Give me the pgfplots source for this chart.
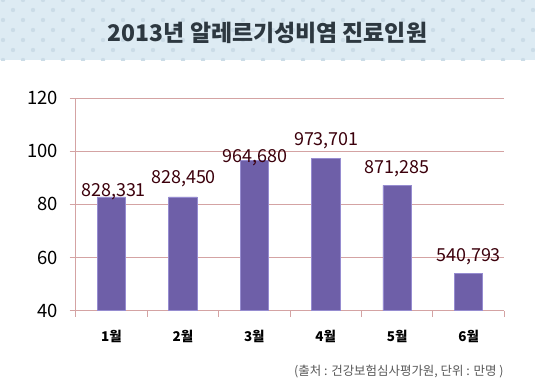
\documentclass[border=0pt]{standalone}
\usepackage{fontspec}
\setmainfont{Noto Sans CJK KR}
\usepackage{pgfplots}
\pgfplotsset{compat=1.18}
\definecolor{band}{RGB}{221,235,243}
\definecolor{dot}{RGB}{203,220,231}
\definecolor{gridc}{RGB}{212,163,163}
\definecolor{barc}{RGB}{110,95,168}
\definecolor{bare}{RGB}{150,140,208}
\definecolor{labc}{RGB}{60,0,12}
\definecolor{titc}{RGB}{45,56,64}
\begin{document}
\begin{tikzpicture}[x=1bp,y=1bp]
\fill[white] (0,0) rectangle (535,390);
\begin{scope}
\clip (0,330) rectangle (535,390);
\fill[band] (0,330) rectangle (535,390);
\foreach \r in {0,...,6}{
  \pgfmathsetmacro{\yy}{390-\r*10}
  \pgfmathsetmacro{\off}{mod(\r,2)==0 ? 3 : 13}
  \foreach \c in {0,...,26}{
    \fill[dot] ({\off+\c*20},\yy) circle (2.2);
  }
}
\end{scope}
\node[font=\fontsize{23}{27}\selectfont\bfseries, text=titc] at (267.5,357) {2013년 알레르기성비염 진료인원};
\begin{axis}[
  at={(75.7bp,79.3bp)}, anchor=south west,
  scale only axis, width=428.6bp, height=212.6bp,
  xmin=-0.5, xmax=5.5, ymin=40, ymax=120,
  ytick={40,60,80,100,120},
  xtick={-0.5,0.5,1.5,2.5,3.5,4.5,5.5},
  x tick label as interval,
  xticklabels={1월,2월,3월,4월,5월,6월},
  axis x line*=bottom, axis y line*=left,
  axis line style={-, draw=gridc, line width=0.8pt},
  tick style={draw=gridc, line width=0.8pt},
  tick align=outside, major tick length=6bp,
  ymajorgrids, grid style={draw=gridc, line width=0.8pt},
  /pgf/number format/assume math mode=true,
  yticklabel style={font=\fontsize{18.5}{20}\selectfont, text=black, xshift=-8bp},
  xticklabel style={font=\fontsize{13.5}{15}\selectfont\bfseries, text=black, yshift=-10bp},
  ybar, bar width=28.4bp, bar shift=0pt,
  clip=false,
]
\addplot[fill=barc, draw=bare, line width=0.6pt] coordinates {(0,82.8331) (1,82.8450) (2,96.4680) (3,97.3701) (4,87.1285) (5,54.0793)};
\begin{scope}[every node/.style={anchor=base, text=labc, font=\fontsize{18}{20}\selectfont, inner sep=0pt}]
\node at (axis cs:0.03,82.8) {828,331};
\node at (axis cs:1.01,87.7) {828,450};
\node at (axis cs:2.01,95.7) {964,680};
\node at (axis cs:3.01,102.0) {973,701};
\node at (axis cs:4,91.7) {871,285};
\node at (axis cs:5,58.7) {540,793};
\end{scope}
\end{axis}
\node[anchor=east, font=\fontsize{12.5}{14}\selectfont, text=black!65] at (507,18) {(출처 : 건강보험심사평가원, 단위 : 만명 )};
\end{tikzpicture}
\end{document}
